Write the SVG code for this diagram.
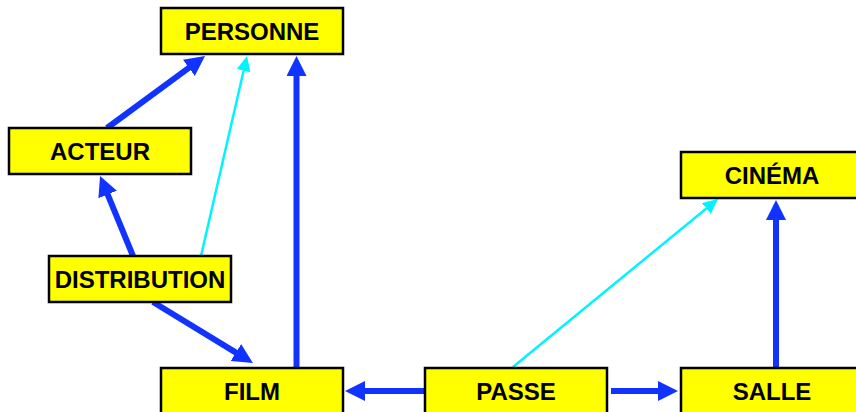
<svg xmlns="http://www.w3.org/2000/svg" width="856" height="412" viewBox="0 0 856 412">
  <style>
    .box { fill: #ffff00; stroke: #000; stroke-width: 2.5; }
    .lbl { font-family: "Liberation Sans", Arial, sans-serif; font-weight: bold; font-size: 24px; fill: #000; text-anchor: middle; }
    .strong { stroke: #1133ff; stroke-width: 6; fill: none; }
    .weak { stroke: #00f4ff; stroke-width: 2.5; fill: none; }
  </style>
  <defs>
    <marker id="head" markerUnits="userSpaceOnUse" markerWidth="20" markerHeight="20" viewBox="0 0 20 20" refX="2" refY="10" orient="auto">
      <path d="M0,0 L20,10 L0,20 z" fill="#1133ff"/>
    </marker>
    <marker id="headLight" markerUnits="userSpaceOnUse" markerWidth="15" markerHeight="14" viewBox="0 0 15 14" refX="2" refY="7" orient="auto">
      <path d="M0,0 L15,7 L0,14 z" fill="#00f4ff"/>
    </marker>
  </defs>
  <rect width="856" height="412" fill="#fff"/>

  <g id="connectors">
    <line class="strong" x1="107" y1="128" x2="190.5" y2="66.7" marker-end="url(#head)"/>
    <line class="strong" x1="133" y1="256" x2="106.9" y2="192.6" marker-end="url(#head)"/>
    <line class="strong" x1="296.5" y1="368" x2="296.5" y2="74" marker-end="url(#head)"/>
    <line class="strong" x1="153" y1="302" x2="237.6" y2="353.6" marker-end="url(#head)"/>
    <line class="strong" x1="425" y1="391" x2="363" y2="391" marker-end="url(#head)"/>
    <line class="strong" x1="611" y1="391" x2="660" y2="391" marker-end="url(#head)"/>
    <line class="strong" x1="776" y1="368" x2="776" y2="218" marker-end="url(#head)"/>
    <line class="weak" x1="201" y1="256" x2="244.1" y2="68.7" marker-end="url(#headLight)"/>
    <line class="weak" x1="513" y1="367" x2="707.9" y2="207.2" marker-end="url(#headLight)"/>
  </g>

  <g id="personne">
    <rect class="box" x="161" y="8" width="182" height="46"/>
    <text class="lbl" x="252" y="39.5">PERSONNE</text>
  </g>
  <g id="acteur">
    <rect class="box" x="9" y="128" width="182" height="46"/>
    <text class="lbl" x="100" y="159.5">ACTEUR</text>
  </g>
  <g id="distribution">
    <rect class="box" x="49" y="256" width="182" height="46"/>
    <text class="lbl" x="140" y="287.5">DISTRIBUTION</text>
  </g>
  <g id="cinema">
    <rect class="box" x="681" y="152" width="182" height="46"/>
    <text class="lbl" x="772" y="183.5">CINÉMA</text>
  </g>
  <g id="film">
    <rect class="box" x="161" y="368" width="182" height="46"/>
    <text class="lbl" x="252" y="399.5">FILM</text>
  </g>
  <g id="passe">
    <rect class="box" x="425" y="368" width="182" height="46"/>
    <text class="lbl" x="516" y="399.5">PASSE</text>
  </g>
  <g id="salle">
    <rect class="box" x="681" y="368" width="182" height="46"/>
    <text class="lbl" x="772" y="399.5">SALLE</text>
  </g>
</svg>
